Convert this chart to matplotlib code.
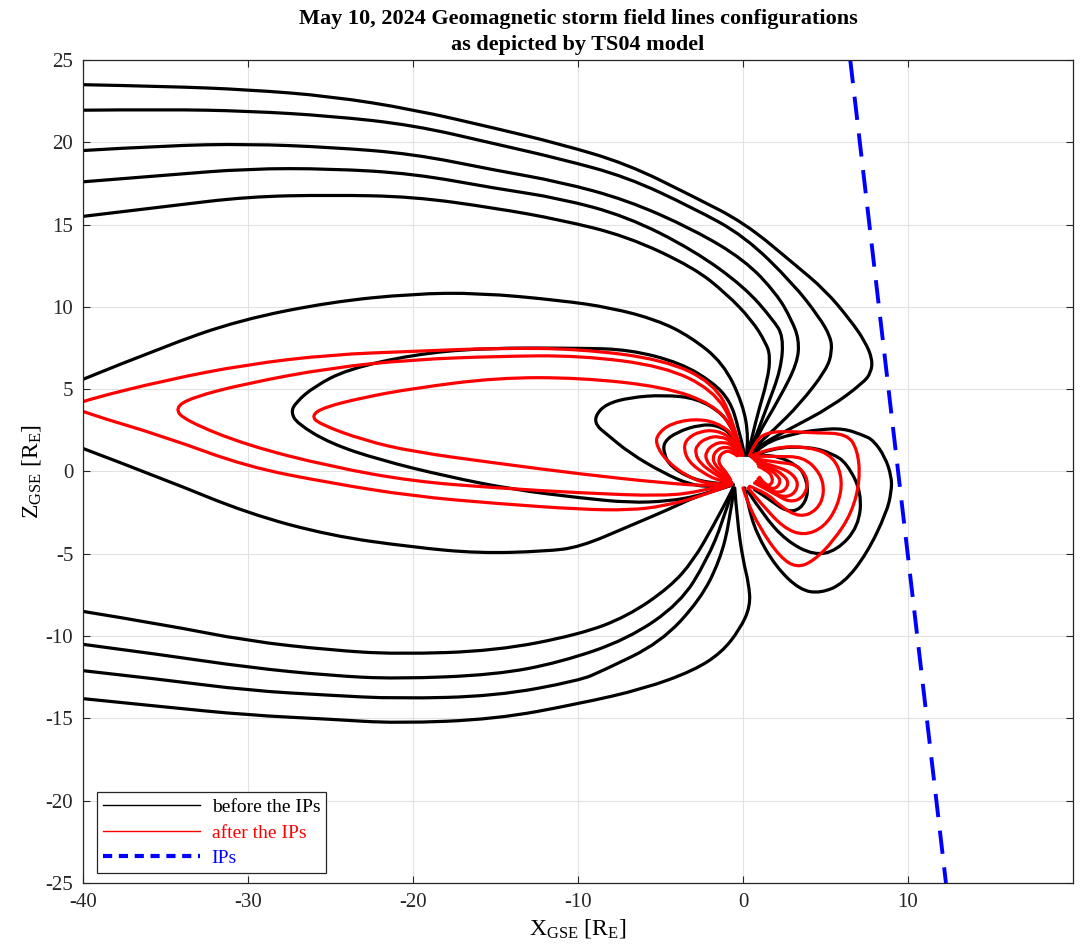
import matplotlib
matplotlib.use("Agg")
import matplotlib.pyplot as plt
from matplotlib.lines import Line2D
from matplotlib.path import Path
from matplotlib.patches import PathPatch

plt.rcParams['font.family'] = ['Liberation Serif', 'DejaVu Serif']
plt.rcParams['mathtext.fontset'] = 'custom'
plt.rcParams['mathtext.rm'] = 'Liberation Serif'
plt.rcParams['mathtext.it'] = 'Liberation Serif:italic'
plt.rcParams['mathtext.bf'] = 'Liberation Serif:bold'
plt.rcParams['axes.unicode_minus'] = False

# ---------------------------------------------------------------
# Field line traces (X_GSE, Z_GSE) in Earth radii
# ---------------------------------------------------------------
# Before the interplanetary shocks (black)
BEFORE_NORTH_1 = [(-40, 23.5), (-35, 23.4), (-30, 23.2), (-25, 22.8), (-20, 22.0), (-15, 20.85),
                  (-11.1, 19.9), (-7.05, 18.7), (-3.0, 16.7), (0.1, 15.1), (3.05, 12.65), (5.0, 11.0),
                  (6.5, 9.2), (7.4, 7.9), (7.85, 6.8), (7.75, 6.0), (7.3, 5.4), (5.3, 3.9),
                  (2.85, 2.6), (0.83, 1.5), (0.4, 1.0)]
BEFORE_NORTH_2 = [(-40, 21.95), (-35, 22.0), (-30, 21.9), (-25, 21.6), (-20, 21.05), (-15, 19.9),
                  (-11.1, 19.0), (-7.05, 17.9), (-3.0, 16.0), (0.1, 14.3), (3.05, 11.4), (4.6, 9.4),
                  (5.3, 8.2), (5.4, 7.3), (5.07, 6.2), (3.45, 4.1), (1.84, 2.5), (0.62, 1.4), (0.35, 1.0)]
BEFORE_NORTH_3 = [(-40, 19.5), (-35, 19.8), (-30, 19.9), (-25, 19.7), (-20, 19.3), (-15, 18.3),
                  (-11.1, 17.6), (-7.05, 16.5), (-3.0, 14.7), (0.1, 12.85), (2.04, 10.8), (2.95, 9.2),
                  (3.4, 8.0), (3.3, 6.6), (2.24, 4.5), (0.83, 2.1), (0.3, 1.0)]
BEFORE_NORTH_4 = [(-40, 17.6), (-35, 18.0), (-30, 18.4), (-25, 18.4), (-20, 18.1), (-15, 17.2),
                  (-11.1, 16.6), (-7.05, 15.5), (-3.0, 13.45), (0.1, 11.2), (1.84, 9.2), (2.45, 8.2),
                  (2.3, 6.2), (1.44, 3.9), (0.62, 1.7), (0.25, 1.0)]
BEFORE_NORTH_5 = [(-40, 15.5), (-35, 16.1), (-30, 16.7), (-25, 16.8), (-20, 16.7), (-15, 16.0),
                  (-11.1, 15.3), (-7.05, 14.3), (-3.0, 12.4), (-1.0, 10.8), (0.53, 9.2), (1.4, 7.8),
                  (1.65, 7.0), (1.5, 5.6), (0.83, 3.3), (0.42, 1.5), (0.2, 1.0)]
BEFORE_NORTH_6 = [(-40, 5.6), (-35.1, 7.6), (-30.5, 9.2), (-25, 10.3), (-20, 10.8), (-16, 10.85),
                  (-11.1, 10.4), (-8.0, 9.95), (-5.2, 9.2), (-3.2, 8.2), (-1.2, 6.6), (0.0, 4.1),
                  (0.35, 2.0), (0.2, 1.0)]
BEFORE_SOUTH_6 = [(-40, 1.4), (-35, -0.5), (-30, -2.55), (-25, -3.9), (-20, -4.6), (-16, -4.97),
                  (-12, -4.85), (-9.9, -4.6), (-6.85, -3.3), (-4.5, -2.3), (-2.8, -1.5), (-1.2, -1.0),
                  (-0.6, -0.8)]
BEFORE_SOUTH_1 = [(-40, -8.5), (-35.1, -9.3), (-30, -10.3), (-25, -10.85), (-21, -11.1), (-15, -10.9),
                  (-9.9, -9.9), (-7.0, -8.8), (-4.4, -7.0), (-3.0, -5.4), (-1.8, -3.3), (-0.9, -1.6),
                  (-0.6, -1.0)]
BEFORE_SOUTH_2 = [(-40, -10.5), (-35.1, -11.15), (-30, -11.9), (-25, -12.4), (-21, -12.6), (-15, -12.35),
                  (-11.1, -11.6), (-7.0, -10.2), (-3.8, -8.0), (-2.2, -5.4), (-1.2, -3.0), (-0.6, -1.0)]
BEFORE_SOUTH_3 = [(-40, -12.1), (-35.1, -12.65), (-30, -13.3), (-25, -13.6), (-21, -13.8), (-15, -13.65),
                  (-9.9, -12.7), (-8.5, -12.1), (-5.0, -10.4), (-2.6, -7.8), (-1.4, -5.4), (-0.8, -3.0),
                  (-0.55, -1.0)]
BEFORE_SOUTH_4 = [(-40, -13.8), (-35.1, -14.3), (-30, -14.8), (-25, -15.05), (-21, -15.3), (-15, -15.05),
                  (-9.9, -14.1), (-6.0, -13.2), (-3.0, -12.1), (-1.3, -11.0), (-0.2, -9.6), (0.45, -8.2),
                  (0.35, -6.8), (0.0, -5.4), (-0.35, -3.0), (-0.5, -1.0)]
BEFORE_TAIL_LOOP = [(0.1, 1.0), (-0.3, 2.8), (-0.8, 4.3), (-1.8, 5.4), (-3.8, 6.6), (-6.85, 7.4),
                    (-9.9, 7.5), (-15.9, 7.5), (-20, 7.1), (-24, 6.2), (-26, 5.15), (-27.1, 4.2),
                    (-27.4, 3.6), (-27.0, 2.9), (-25, 1.7), (-22, 0.7), (-17.95, -0.3), (-13.9, -1.1),
                    (-9.9, -1.6), (-6.85, -1.9), (-4.5, -1.8), (-2.8, -1.5), (-1.2, -1.0), (-0.6, -0.8)]
BEFORE_NIGHT_LOOP_1 = [(0.1, 1.0), (-0.5, 2.3), (-1.2, 3.5), (-2.8, 4.45), (-4.8, 4.65), (-6.85, 4.5),
                       (-8.3, 4.1), (-8.95, 3.4), (-8.9, 2.8), (-8.3, 2.3), (-6.85, 1.1), (-4.8, -0.1),
                       (-3.2, -0.8), (-1.8, -0.95), (-0.6, -0.8)]
BEFORE_NIGHT_LOOP_2 = [(0.0, 1.0), (-0.6, 2.2), (-1.5, 2.8), (-2.6, 2.85), (-4.0, 2.4), (-4.8, 1.8),
                       (-4.8, 1.1), (-4.4, 0.3), (-3.0, -0.5), (-1.4, -0.75), (-0.6, -0.8)]
BEFORE_DAY_LOOP_1 = [(0.5, 0.9), (1.2, 1.7), (3.05, 2.3), (4.6, 2.55), (6.08, 2.62), (7.3, 2.2),
                     (7.9, 1.9), (8.6, 0.9), (9.0, -0.3), (9.0, -1.2), (8.7, -2.5), (7.5, -5.0),
                     (6.1, -6.8), (4.7, -7.4), (3.45, -7.2), (2.0, -5.8), (0.8, -3.75), (0.3, -2.0), (0.1, -1.0)]
BEFORE_DAY_LOOP_2 = [(0.5, 0.9), (1.8, 1.45), (4.06, 1.5), (5.4, 1.1), (6.3, 0.5), (7.2, -1.3),
                     (7.0, -3.35), (5.7, -4.8), (4.3, -5.1), (2.6, -4.2), (1.2, -2.6), (0.3, -1.2)]
BEFORE_DAY_LOOP_3 = [(0.5, 0.9), (1.2, 1.0), (2.2, 0.9), (3.2, 0.4), (3.7, -0.1), (4.0, -1.3),
                     (3.5, -2.3), (2.65, -2.45), (1.6, -1.7), (0.7, -1.1)]

# After the interplanetary shocks (red)
AFTER_TAIL_1 = [(-0.1, 1.0), (-0.6, 3.2), (-1.8, 5.4), (-4.8, 6.8), (-9.9, 7.45), (-14.9, 7.5),
                (-20, 7.3), (-25, 7.1), (-30.1, 6.5), (-35, 5.55), (-40, 4.3), (-40.6, 3.95),
                (-40, 3.6), (-35, 2.1), (-30.1, 0.3), (-25, -0.7), (-20, -1.5), (-14.9, -1.95),
                (-9.9, -2.3), (-6.85, -2.35), (-4.8, -2.1), (-2.5, -1.5), (-0.7, -0.8)]
AFTER_TAIL_2 = [(-0.05, 1.0), (-0.5, 2.8), (-1.8, 4.95), (-4.8, 6.4), (-9.9, 7.05), (-14.9, 7.0),
                (-20, 6.8), (-25, 6.3), (-30.1, 5.35), (-33.4, 4.5), (-34.45, 3.85), (-33.8, 3.1),
                (-30.1, 1.6), (-25, 0.3), (-20, -0.6), (-14.9, -1.0), (-9.9, -1.3), (-4.8, -1.5),
                (-2.5, -1.2), (-0.7, -0.75)]
AFTER_TAIL_3 = [(0.0, 1.0), (-0.5, 2.5), (-1.8, 4.1), (-4.8, 5.15), (-9.9, 5.7), (-14.9, 5.7),
                (-20, 5.05), (-23, 4.5), (-25.4, 3.9), (-26.15, 3.4), (-25.7, 2.9), (-23, 1.9),
                (-20, 1.2), (-14.9, 0.5), (-9.9, -0.15), (-4.8, -0.7), (-1.8, -0.9), (-0.7, -0.75)]
AFTER_NIGHT_LOOP_1 = [(-0.2, 1.0), (-0.4, 2.1), (-1.6, 3.0), (-3.0, 3.2), (-4.4, 2.9), (-5.15, 2.3),
                      (-5.3, 1.7), (-4.7, 0.7), (-3.4, -0.3), (-2.0, -0.8), (-0.8, -0.75)]
AFTER_NIGHT_LOOP_2 = [(-0.1, 1.0), (-0.6, 2.0), (-1.6, 2.5), (-2.6, 2.45), (-3.4, 2.0), (-3.6, 1.4),
                      (-3.3, 0.6), (-2.4, -0.1), (-1.5, -0.55), (-0.7, -0.7)]
AFTER_NIGHT_LOOP_3 = [(-0.15, 1.0), (-0.6, 1.8), (-1.4, 2.15), (-2.2, 2.05), (-2.8, 1.6), (-2.9, 1.1),
                      (-2.6, 0.5), (-1.8, -0.1), (-1.1, -0.5), (-0.65, -0.7)]
AFTER_NIGHT_LOOP_4 = [(-0.2, 1.0), (-0.6, 1.6), (-1.2, 1.8), (-1.8, 1.65), (-2.25, 1.2), (-2.25, 0.7),
                      (-1.85, 0.2), (-1.2, -0.3), (-0.7, -0.65)]
AFTER_NIGHT_LOOP_5 = [(-0.25, 1.0), (-0.65, 1.4), (-1.15, 1.5), (-1.6, 1.3), (-1.85, 0.85),
                      (-1.7, 0.4), (-1.25, -0.05), (-0.75, -0.55)]
AFTER_NIGHT_LOOP_6 = [(-0.35, 0.95), (-0.75, 1.25), (-1.2, 1.2), (-1.5, 0.8), (-1.4, 0.35),
                      (-1.0, -0.05), (-0.75, -0.5)]
AFTER_DAY_LOOP_1 = [(0.4, 1.0), (0.8, 1.9), (1.44, 2.35), (2.5, 2.45), (4.26, 2.35), (6.3, 2.3),
                    (6.95, 1.3), (7.1, -0.5), (6.6, -2.5), (5.5, -4.2), (4.26, -5.45), (3.25, -5.85),
                    (2.24, -5.2), (1.0, -3.4), (0.2, -1.7), (0.0, -1.0)]
AFTER_DAY_LOOP_2 = [(0.45, 0.95), (1.84, 1.5), (4.06, 1.5), (5.5, 0.9), (6.05, -0.5), (5.75, -2.1),
                    (4.9, -3.4), (3.65, -3.9), (2.44, -3.4), (1.23, -2.1), (0.3, -1.0)]
AFTER_DAY_LOOP_3 = [(0.45, 0.95), (2.04, 0.9), (3.65, 0.9), (4.7, -0.1), (4.95, -1.3), (4.5, -2.35),
                    (3.45, -2.8), (2.24, -2.1), (1.44, -1.3), (0.4, -0.9)]
AFTER_DAY_LOOP_4 = [(0.6, 0.8), (2.04, 0.55), (3.25, 0.45), (4.0, -0.5), (3.7, -1.55), (2.85, -1.9),
                    (1.84, -1.3), (0.7, -0.7)]
AFTER_DAY_LOOP_5 = [(0.7, 0.7), (1.8, 0.35), (2.85, 0.0), (3.4, -0.7), (3.05, -1.45), (2.3, -1.55),
                    (1.5, -1.1), (0.8, -0.6)]
AFTER_DAY_LOOP_6 = [(0.8, 0.6), (1.7, 0.25), (2.45, -0.2), (2.8, -0.7), (2.45, -1.25), (1.8, -1.25),
                    (1.2, -0.85), (0.9, -0.45)]
AFTER_DAY_LOOP_7 = [(0.9, 0.45), (1.5, 0.2), (2.05, -0.2), (2.3, -0.6), (2.0, -1.05), (1.5, -1.0),
                    (1.0, -0.4)]
AFTER_DAY_LOOP_8 = [(0.95, 0.3), (1.4, 0.1), (1.8, -0.3), (1.75, -0.8), (1.35, -0.85), (1.0, -0.35)]

# Interplanetary shock front (blue dashed)
IP_X = [6.5, 12.3]
IP_Z = [25, -25]

BEFORE_LINES = [BEFORE_NORTH_1, BEFORE_NORTH_2, BEFORE_NORTH_3, BEFORE_NORTH_4, BEFORE_NORTH_5,
                BEFORE_NORTH_6, BEFORE_SOUTH_6, BEFORE_SOUTH_1, BEFORE_SOUTH_2, BEFORE_SOUTH_3,
                BEFORE_SOUTH_4, BEFORE_TAIL_LOOP, BEFORE_NIGHT_LOOP_1, BEFORE_NIGHT_LOOP_2,
                BEFORE_DAY_LOOP_1, BEFORE_DAY_LOOP_2, BEFORE_DAY_LOOP_3]
AFTER_LINES = [AFTER_TAIL_1, AFTER_TAIL_2, AFTER_TAIL_3, AFTER_NIGHT_LOOP_1, AFTER_NIGHT_LOOP_2,
               AFTER_NIGHT_LOOP_3, AFTER_NIGHT_LOOP_4, AFTER_NIGHT_LOOP_5, AFTER_NIGHT_LOOP_6,
               AFTER_DAY_LOOP_1, AFTER_DAY_LOOP_2, AFTER_DAY_LOOP_3, AFTER_DAY_LOOP_4,
               AFTER_DAY_LOOP_5, AFTER_DAY_LOOP_6, AFTER_DAY_LOOP_7, AFTER_DAY_LOOP_8]

X_TICKS = [-40, -30, -20, -10, 0, 10]
Z_TICKS = [-25, -20, -15, -10, -5, 0, 5, 10, 15, 20, 25]
LEGEND_LABELS = ["before the IPs", "after the IPs", "IPs"]


def smooth_trace_path(trace):
    """Quadratic Bezier path using the traced points as control points."""
    verts = [trace[0]]
    codes = [Path.MOVETO]
    for i in range(1, len(trace) - 1):
        x0, z0 = trace[i]
        x1, z1 = trace[i + 1]
        end = trace[i + 1] if i == len(trace) - 2 else ((x0 + x1) / 2, (z0 + z1) / 2)
        verts += [trace[i], end]
        codes += [Path.CURVE3, Path.CURVE3]
    if len(trace) == 2:
        verts.append(trace[1])
        codes.append(Path.LINETO)
    return Path(verts, codes)


fig = plt.figure(figsize=(10.83, 9.47), dpi=100)
ax = fig.add_axes([83 / 1083, 1 - 883 / 947, 990 / 1083, 823 / 947])

for traces, colour in ((BEFORE_LINES, 'black'), (AFTER_LINES, '#ff0000')):
    for trace in traces:
        ax.add_patch(PathPatch(smooth_trace_path(trace), fill=False, edgecolor=colour,
                               lw=2.3, capstyle='round', joinstyle='round'))
ax.plot(IP_X, IP_Z, color='#0000ff', lw=2.8, dashes=(6, 3.5))

ax.set_xlim(-40, 20)
ax.set_ylim(-25, 25)
ax.set_xticks(X_TICKS)
ax.set_yticks(Z_TICKS)
ax.tick_params(direction='in', top=True, right=True, length=5, width=0.8,
               labelsize=15, colors='#262626', pad=7)
ax.grid(True, color='#e2e2e2', lw=0.8)
ax.set_axisbelow(True)
for sp in ax.spines.values():
    sp.set_color('#262626')
    sp.set_linewidth(0.9)

ax.set_xlabel(r'X$_{\rm GSE}$ [R$_{\rm E}$]', fontsize=17, labelpad=4)
ax.set_ylabel(r'Z$_{\rm GSE}$ [R$_{\rm E}$]', fontsize=17, labelpad=2)
ax.set_title('May 10, 2024 Geomagnetic storm field lines configurations\nas depicted by TS04 model',
             fontsize=16, fontweight='bold', linespacing=1.45, pad=7)

handles = [Line2D([], [], color='black', lw=1.0),
           Line2D([], [], color='#ff0000', lw=1.0),
           Line2D([], [], color='#0000ff', lw=3.0, dashes=(2.2, 1.6))]
leg = ax.legend(handles, LEGEND_LABELS, loc='lower left', bbox_to_anchor=(0.014, 0.012),
                borderaxespad=0, fontsize=14, handlelength=5.0, handletextpad=0.6,
                labelspacing=0.42, borderpad=0.3, fancybox=False, framealpha=1,
                edgecolor='#262626')
leg.get_frame().set_linewidth(0.9)
for txt, col in zip(leg.get_texts(), ['black', '#ff0000', '#0000ff']):
    txt.set_color(col)

fig.savefig('out.png', dpi=100, facecolor='white')
